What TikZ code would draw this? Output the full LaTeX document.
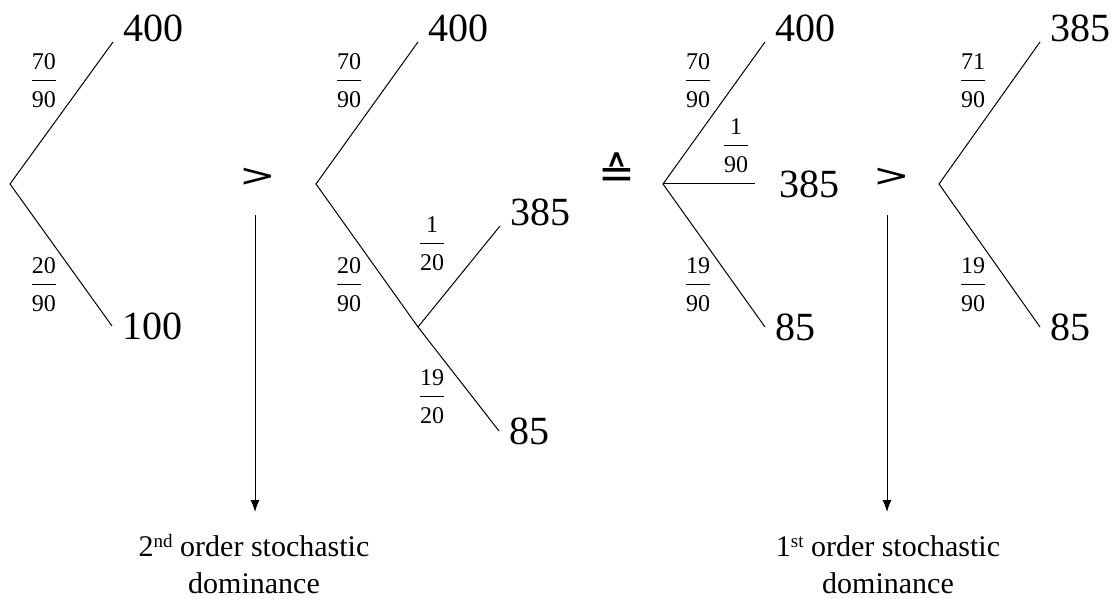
\documentclass[tikz,border=0pt]{standalone}
\usepackage{fontspec}
\setmainfont{Liberation Serif}
\newfontfamily\relfont{DejaVu Sans}
\usepackage{graphicx}
\usepackage{tikz}
\usetikzlibrary{positioning, arrows.meta}

\setlength{\arrayrulewidth}{0.5pt}
\newcommand{\pfrac}[2]{\begin{tabular}{@{}c@{}}#1\\[1pt]\hline\rule{0pt}{13.1pt}#2\end{tabular}}
\newcommand{\ordsup}[1]{\raisebox{4.6pt}{\fontsize{9.5}{10}\selectfont #1}}
\newcommand{\wgt}{\scalebox{1.25}[0.9]{>}}

\begin{document}
\begin{tikzpicture}[
        x=0.5pt, y=-0.5pt,
        line width=0.5pt,
        num/.style={font=\fontsize{20}{24}\selectfont, inner xsep=5pt, inner ysep=0pt},
        prob/.style={font=\fontsize{12}{14.4}\selectfont, inner sep=0pt},
        rel/.style={font=\relfont\fontsize{17.5}{21}\selectfont, inner sep=0pt},
        note/.style={font=\fontsize{15}{18.5}\selectfont, align=center, inner sep=0pt, anchor=south},
        arr/.style={-{Latex[length=6pt, width=4.5pt]}}
        ]
        \useasboundingbox (0,0) rectangle (1116,599);

        % Lottery 1
        \coordinate (r1) at (10,184);
        \node[num, anchor=base west] (t1) at (113,42) {400};
        \node[num, anchor=west] (b1) at (112,326) {100};
        \draw (t1.base west) -- (r1) -- (b1.west);
        \node[prob] (p1) at (44,83) {\pfrac{70}{90}};
        \node[prob] (q1) at (44,287) {\pfrac{20}{90}};

        % first relation + arrow
        \node[rel] (g1) at (258,177) {\wgt};
        \coordinate (s1) at (255,215);
        \coordinate (e1) at (255,512);
        \draw[arr] (s1) -- (e1);
        \node[note] (n1) at (254,594) {2\ordsup{nd} order stochastic\\dominance};

        % Lottery 2 (compound)
        \coordinate (r2) at (316,184);
        \coordinate (m2) at (418,327);
        \node[num, anchor=base west] (t2) at (418,42) {400};
        \node[num, anchor=base west] (u2) at (500,226) {385};
        \node[num, anchor=west] (b2) at (499,431) {85};
        \draw (t2.base west) -- (r2) -- (m2) -- (b2.west);
        \draw (m2) -- (u2.base west);
        \node[prob] (p2) at (349,83) {\pfrac{70}{90}};
        \node[prob] (q2) at (349,287) {\pfrac{20}{90}};
        \node[prob] (p2a) at (432,246) {\pfrac{1}{20}};
        \node[prob] (q2a) at (432,399) {\pfrac{19}{20}};

        % equivalence
        \node[rel, font=\relfont\fontsize{22}{26}\selectfont] (h1) at (617,171) {≙};

        % Lottery 3 (reduced)
        \coordinate (r3) at (663,184);
        \coordinate (e3) at (755,184);
        \node[num, anchor=base west] (t3) at (765,42) {400};
        \node[num, right=7pt of e3] (c3) {385};
        \node[num, anchor=west] (b3) at (765,327) {85};
        \draw (t3.base west) -- (r3) -- (b3.west);
        \draw (r3) -- (e3);
        \node[prob] (p3) at (698,83) {\pfrac{70}{90}};
        \node[prob] (p3a) at (736,148) {\pfrac{1}{90}};
        \node[prob] (q3) at (698,287) {\pfrac{19}{90}};

        % second relation + arrow
        \node[rel] (g2) at (892,177) {\wgt};
        \coordinate (s2) at (887,215);
        \coordinate (e2) at (887,512);
        \draw[arr] (s2) -- (e2);
        \node[note] (n2) at (888,594) {1\ordsup{st} order stochastic\\dominance};

        % Lottery 4
        \coordinate (r4) at (939,184);
        \node[num, anchor=base west] (t4) at (1040,42) {385};
        \node[num, anchor=west] (b4) at (1040,327) {85};
        \draw (t4.base west) -- (r4) -- (b4.west);
        \node[prob] (p4) at (973,83) {\pfrac{71}{90}};
        \node[prob] (q4) at (973,287) {\pfrac{19}{90}};
\end{tikzpicture}
\end{document}
